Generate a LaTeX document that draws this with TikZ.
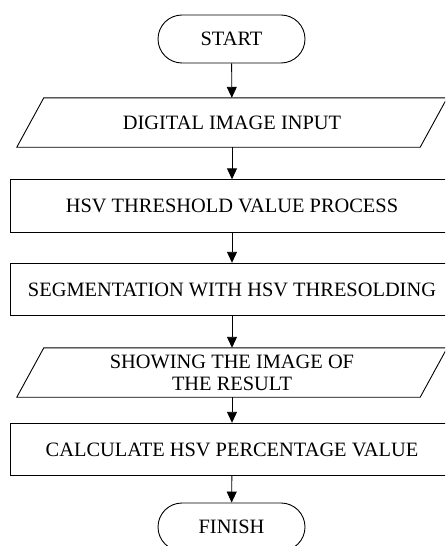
\documentclass[tikz,border=0pt]{standalone}
\usepackage{fontspec}
\setmainfont{Liberation Serif}
\usetikzlibrary{arrows.meta}
\begin{document}
\begin{tikzpicture}[x=1pt,y=-1pt,
  every node/.style={font=\fontsize{20.4pt}{22pt}\selectfont, inner sep=0pt, text=black},
  term/.style={draw, line width=0.9pt, rounded corners=24pt, minimum width=147pt, minimum height=48pt},
  procbox/.style={draw, line width=0.9pt, minimum width=444pt, minimum height=52.5pt},
  iobox/.style={minimum width=403pt, minimum height=49pt, align=center},
  arr/.style={line width=0.9pt, -{Triangle[length=11pt,width=10pt]}},
  para/.style={line width=0.9pt}
]
\useasboundingbox (0,0) rectangle (445,546);
\clip (0,0) rectangle (445,546);
\node[term] (start) at (231.5,39) {START};
\node[iobox] (p1) at (232,122.5) {DIGITAL IMAGE INPUT};
\draw[para] ([xshift=13.5pt]p1.north west) -- ([xshift=13.5pt]p1.north east) -- ([xshift=-13.5pt]p1.south east) -- ([xshift=-13.5pt]p1.south west) -- cycle;
\node[procbox] (r1) at (232,206) {HSV THRESHOLD VALUE PROCESS};
\node[procbox] (r2) at (232,289.5) {SEGMENTATION WITH HSV THRESOLDING};
\node[iobox] (p2) at (232,372.5) {SHOWING THE IMAGE OF\\THE RESULT};
\draw[para] ([xshift=13.5pt]p2.north west) -- ([xshift=13.5pt]p2.north east) -- ([xshift=-13.5pt]p2.south east) -- ([xshift=-13.5pt]p2.south west) -- cycle;
\node[procbox] (r3) at (232,449.5) {CALCULATE HSV PERCENTAGE VALUE};
\node[term] (finish) at (231.5,527) {FINISH};
\draw[arr] (start) -- (p1);
\draw[arr] (p1) -- (r1);
\draw[arr] (r1) -- (r2);
\draw[arr] (r2) -- (p2);
\draw[arr] (p2) -- (r3);
\draw[arr] (r3) -- (finish);
\end{tikzpicture}
\end{document}
